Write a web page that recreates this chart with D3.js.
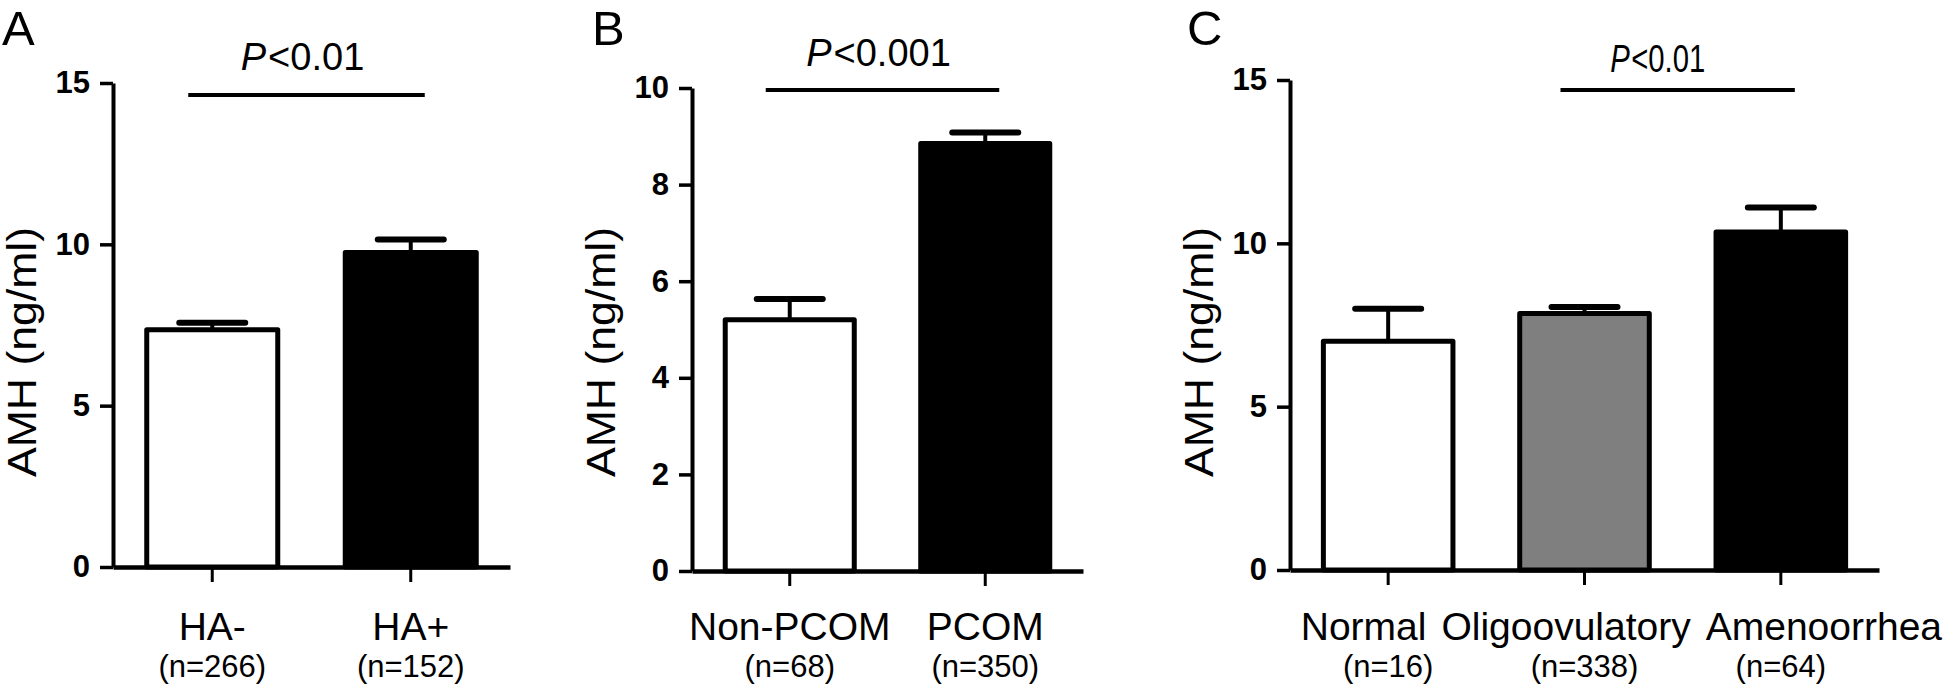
<!DOCTYPE html>
<html>
<head>
<meta charset="utf-8">
<script src="https://cdn.jsdelivr.net/npm/d3@7"></script>
<style>
  html, body { margin: 0; padding: 0; background: #fff; }
  svg { display: block; font-family: "Liberation Sans", Arial, sans-serif; }
</style>
</head>
<body>
<div id="chart"></div>
<script>
// ---- data ----
const catsA = ["HA-", "HA+"];
const nA = [266, 152];
const meanA = [7.35, 9.75];
const semA = [0.22, 0.4];
const fillA = ["#ffffff", "#000000"];
const ticksA = [0, 5, 10, 15];

const catsB = ["Non-PCOM", "PCOM"];
const nB = [68, 350];
const meanB = [5.2, 8.85];
const semB = [0.43, 0.23];
const fillB = ["#ffffff", "#000000"];
const ticksB = [0, 2, 4, 6, 8, 10];

const catsC = ["Normal", "Oligoovulatory", "Amenoorrhea"];
const nC = [16, 338, 64];
const meanC = [7.0, 7.85, 10.35];
const semC = [1.0, 0.2, 0.75];
const fillC = ["#ffffff", "#7f7f7f", "#000000"];
const ticksC = [0, 5, 10, 15];

const panels = [
    {letter: "A", cats: catsA, ns: nA, means: meanA, sems: semA, fills: fillA, ticks: ticksA,
     sig: [0, 1], p: "<0.01",
     x0: 113, x1: 510, y0: 567, y1: 83, letterX: 2, lineY: 95, pY: 70, pDx: -4, pSx: 1},
    {letter: "B", cats: catsB, ns: nB, means: meanB, sems: semB, fills: fillB, ticks: ticksB,
     sig: [0, 1], p: "<0.001",
     x0: 692, x1: 1083, y0: 571, y1: 88, letterX: 592, lineY: 90, pY: 66, pDx: -4, pSx: 1},
    {letter: "C", cats: catsC, ns: nC, means: meanC, sems: semC, fills: fillC, ticks: ticksC,
     sig: [1, 2], p: "<0.01",
     x0: 1290, x1: 1879, y0: 570, y1: 80, letterX: 1187, lineY: 90, pY: 72, pDx: -20, pSx: 0.77}
];

const width = 1944, height = 685;

const svg = d3.select("#chart").append("svg")
    .attr("width", width)
    .attr("height", height);

svg.append("rect").attr("width", width).attr("height", height).attr("fill", "#fff");

panels.forEach(p => {
    const g = svg.append("g");
    const rows = p.cats.map((c, i) => ({cat: c, n: p.ns[i], mean: p.means[i], sem: p.sems[i], fill: p.fills[i]}));

    const x = d3.scaleBand()
        .domain(p.cats)
        .range([p.x0, p.x1])
        .paddingInner(0.34)
        .paddingOuter(0.17);

    const y = d3.scaleLinear()
        .domain([0, d3.max(p.ticks)])
        .range([p.y0, p.y1]);

    // bars
    g.append("g")
        .selectAll("rect")
        .data(rows)
        .join("rect")
        .attr("x", d => x(d.cat))
        .attr("width", x.bandwidth())
        .attr("y", d => y(d.mean))
        .attr("height", d => y(0) - y(d.mean))
        .attr("fill", d => d.fill)
        .attr("stroke", "#000")
        .attr("stroke-width", 5)
        .attr("stroke-linejoin", "round");

    // error bars (upper only)
    const eb = g.append("g").attr("stroke", "#000");
    eb.selectAll("line.stem")
        .data(rows)
        .join("line")
        .attr("class", "stem")
        .attr("x1", d => x(d.cat) + x.bandwidth() / 2)
        .attr("x2", d => x(d.cat) + x.bandwidth() / 2)
        .attr("y1", d => y(d.mean))
        .attr("y2", d => y(d.mean + d.sem))
        .attr("stroke-width", 4);
    eb.selectAll("line.cap")
        .data(rows)
        .join("line")
        .attr("class", "cap")
        .attr("x1", d => x(d.cat) + x.bandwidth() / 2 - 33)
        .attr("x2", d => x(d.cat) + x.bandwidth() / 2 + 33)
        .attr("y1", d => y(d.mean + d.sem))
        .attr("y2", d => y(d.mean + d.sem))
        .attr("stroke-width", 6)
        .attr("stroke-linecap", "round");

    // y axis
    const yAxis = g.append("g")
        .attr("transform", `translate(${p.x0},0)`)
        .call(d3.axisLeft(y).tickValues(p.ticks).tickSize(13).tickSizeOuter(0).tickPadding(10));
    yAxis.select(".domain").attr("stroke", "#000").attr("stroke-width", 4);
    yAxis.selectAll(".tick line").attr("stroke", "#000").attr("stroke-width", 3.5);
    yAxis.selectAll(".tick text")
        .attr("fill", "#000")
        .attr("font-size", 31)
        .attr("font-weight", "bold")
        .attr("font-family", "Liberation Sans, Arial, sans-serif");

    // x axis
    const xAxis = g.append("g")
        .attr("transform", `translate(0,${p.y0})`)
        .call(d3.axisBottom(x).tickSize(15).tickSizeOuter(0).tickFormat(""));
    xAxis.select(".domain").attr("stroke", "#000").attr("stroke-width", 4.5);
    xAxis.selectAll(".tick line").attr("stroke", "#000").attr("stroke-width", 3);

    // y title
    g.append("text")
        .attr("transform", `translate(${p.x0 - 77},352) rotate(-90)`)
        .attr("text-anchor", "middle")
        .attr("font-size", 41)
        .attr("textLength", 250)
        .attr("lengthAdjust", "spacingAndGlyphs")
        .text("AMH (ng/ml)");

    // category labels, pushed apart if they collide
    const catText = g.append("g")
        .selectAll("text")
        .data(rows)
        .join("text")
        .attr("text-anchor", "middle")
        .attr("font-size", 39)
        .attr("y", 640)
        .text(d => d.cat);
    const gap = 15;
    const boxes = [];
    catText.each(function(d) {
        boxes.push({c: x(d.cat) + x.bandwidth() / 2, w: this.getComputedTextLength()});
    });
    for (let it = 0; it < 40; it++) {
        for (let i = 0; i < boxes.length - 1; i++) {
            const a = boxes[i], b = boxes[i + 1];
            const ov = (a.c + a.w / 2 + gap) - (b.c - b.w / 2);
            if (ov > 0) { a.c -= ov / 2; b.c += ov / 2; }
        }
    }
    catText.attr("x", (d, i) => boxes[i].c);

    g.append("g")
        .selectAll("text")
        .data(rows)
        .join("text")
        .attr("text-anchor", "middle")
        .attr("font-size", 31)
        .attr("x", d => x(d.cat) + x.bandwidth() / 2)
        .attr("y", 677)
        .text(d => `(n=${d.n})`);

    // panel letter
    g.append("text")
        .attr("x", p.letterX)
        .attr("y", 45)
        .attr("font-size", 49)
        .text(p.letter);

    // significance bar
    const sa = p.cats[p.sig[0]], sb = p.cats[p.sig[1]];
    const lx1 = x(sa) + x.bandwidth() / 2 - 24;
    const lx2 = x(sb) + x.bandwidth() / 2 + 14;
    g.append("line")
        .attr("x1", lx1).attr("x2", lx2)
        .attr("y1", p.lineY).attr("y2", p.lineY)
        .attr("stroke", "#000")
        .attr("stroke-width", 4);
    const pt = g.append("text")
        .attr("transform", `translate(${(lx1 + lx2) / 2 + p.pDx},${p.pY}) scale(${p.pSx},1)`)
        .attr("text-anchor", "middle")
        .attr("font-size", 38);
    pt.append("tspan").attr("font-style", "italic").text("P");
    pt.append("tspan").attr("dx", 2).text(p.p);
});
</script>
</body>
</html>
